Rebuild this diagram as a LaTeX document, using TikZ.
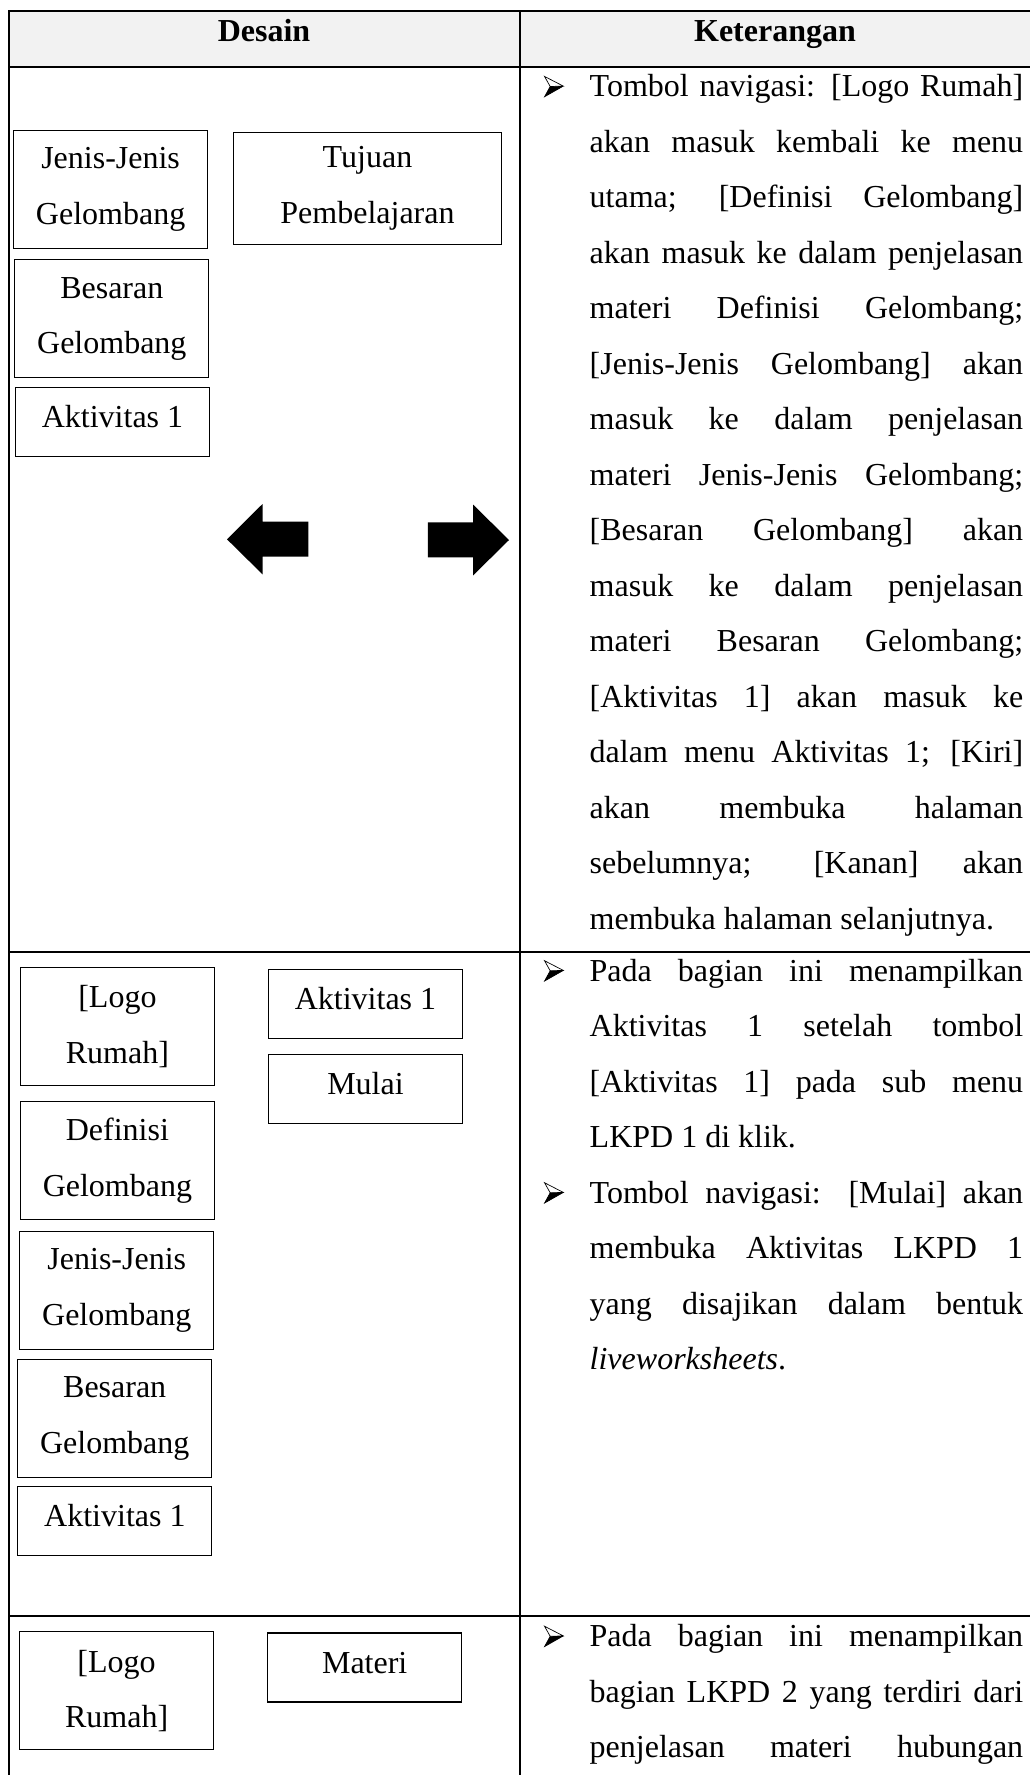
\documentclass[tikz,border=0pt]{standalone}
\usepackage{fontspec}
\setmainfont{Liberation Serif}
\definecolor{hdrgray}{HTML}{F2F2F2}
\newcommand\jline[1]{\noindent\makebox[\hsize][s]{#1}\par}
\newcommand\lastline[1]{\noindent #1\par}
\newcommand\parblock[1]{\vtop{\hsize=433.5pt\parindent=0pt\parskip=0pt #1}}
\tikzset{
  tbl/.style={line width=2pt, draw=black},
  btn/.style={draw=black, line width=1.1pt, inner sep=0pt, align=center,
    minimum width=194pt, minimum height=118pt, font=\fontsize{32}{55.5}\selectfont},
  btnone/.style={btn, minimum height=69pt, text height=22pt, text depth=11pt},
  hdr/.style={font=\fontsize{32}{55.5}\selectfont\bfseries, anchor=base, inner sep=0pt},
  para/.style={anchor=base west, inner sep=0pt, font=\fontsize{32}{55.5}\selectfont},
  navarrow/.style={fill=black},
  arrowbullet/.pic={
    \draw[line width=0.7pt, fill=white, line join=miter] (0.5,-20.3) -- (19.3,-10.6) -- (6.2,-10.2) -- cycle;
    \fill[black] (6.2,-10.2) -- (19.3,-10.6) -- (0.6,0) -- cycle;
    \draw[line width=0.7pt, line join=miter] (6.2,-10.2) -- (0.6,0) -- (19.3,-10.6);
  }
}
\begin{document}
\begin{tikzpicture}[x=1pt,y=-1pt]
\useasboundingbox (0,0) rectangle (1030,1775);
\fill[white] (0,0) rectangle (1030,1775);
% header
\fill[hdrgray] (9,11) rectangle (1030,66.7);
\draw[tbl] (9,11) -- (1030,11);
\draw[tbl] (9,66.7) -- (1030,66.7);
\draw[tbl] (9,951.7) -- (1030,951.7);
\draw[tbl] (9,1615.7) -- (1030,1615.7);
\draw[tbl] (9,10) -- (9,1775);
\draw[tbl] (520,10) -- (520,1775);
\node[hdr] (hdesain) at (264,41.5) {Desain};
\node[hdr] (hket) at (775,41.5) {Keterangan};

% row 1 design
\node[btn] (jenisA) at (110.6,189.5) {Jenis-Jenis\\Gelombang};
\node[btn, minimum width=267.7pt, minimum height=112.3pt] (tujuan) at (367.5,188.2) {Tujuan\\Pembelajaran};
\node[btn] (besaranA) at (111.8,318.8) {Besaran\\Gelombang};
\node[btnone] (aktA) at (112.5,422) {Aktivitas 1};
\fill[navarrow] (227,539.3) -- (262.5,504) -- (262.5,521.7) -- (308.3,521.7) -- (308.3,556.7) -- (262.5,556.7) -- (262.5,574.3) -- cycle;
\fill[navarrow] (509,540) -- (473.2,504.7) -- (473.2,522.3) -- (427.8,522.3) -- (427.8,557.3) -- (473.2,557.3) -- (473.2,575.3) -- cycle;

% row 1 text
\pic (bulA) at (544,96.7) {arrowbullet};
\node[para] (txtA) at (589.5,96.7) {\parblock{%
\jline{Tombol navigasi: [Logo Rumah]}
\jline{akan masuk kembali ke menu}
\jline{utama; [Definisi Gelombang]}
\jline{akan masuk ke dalam penjelasan}
\jline{materi Definisi Gelombang;}
\jline{[Jenis-Jenis Gelombang] akan}
\jline{masuk ke dalam penjelasan}
\jline{materi Jenis-Jenis Gelombang;}
\jline{[Besaran Gelombang] akan}
\jline{masuk ke dalam penjelasan}
\jline{materi Besaran Gelombang;}
\jline{[Aktivitas 1] akan masuk ke}
\jline{dalam menu Aktivitas 1; [Kiri]}
\jline{akan membuka halaman}
\jline{sebelumnya; [Kanan] akan}
\lastline{membuka halaman selanjutnya.}}};

% row 2 design
\node[btn] (logoB) at (117.4,1026.7) {[Logo\\Rumah]};
\node[btnone] (aktB) at (365.5,1003.8) {Aktivitas 1};
\node[btnone] (mulai) at (365.5,1088.8) {Mulai};
\node[btn] (defB) at (117.4,1160.8) {Definisi\\Gelombang};
\node[btn] (jenisB) at (116.8,1290.2) {Jenis-Jenis\\Gelombang};
\node[btn] (besaranB) at (114.7,1418.3) {Besaran\\Gelombang};
\node[btnone] (aktC) at (114.9,1521.2) {Aktivitas 1};

% row 2 text
\pic (bulB) at (544,981) {arrowbullet};
\node[para] (txtB) at (589.5,981) {\parblock{%
\jline{Pada bagian ini menampilkan}
\jline{Aktivitas 1 setelah tombol}
\jline{[Aktivitas 1] pada sub menu}
\lastline{LKPD 1 di klik.}}};
\pic (bulC) at (544,1203) {arrowbullet};
\node[para] (txtC) at (589.5,1203) {\parblock{%
\jline{Tombol navigasi: [Mulai] akan}
\jline{membuka Aktivitas LKPD 1}
\jline{yang disajikan dalam bentuk}
\lastline{\textit{liveworksheets}.}}};

% row 3
\node[btn] (logoC) at (116.6,1690.8) {[Logo\\Rumah]};
\node[btnone] (materi) at (364.7,1667.5) {Materi};
\pic (bulD) at (544,1646.5) {arrowbullet};
\node[para] (txtD) at (589.5,1646.5) {\parblock{%
\jline{Pada bagian ini menampilkan}
\jline{bagian LKPD 2 yang terdiri dari}
\jline{penjelasan materi hubungan}}};
\end{tikzpicture}
\end{document}
